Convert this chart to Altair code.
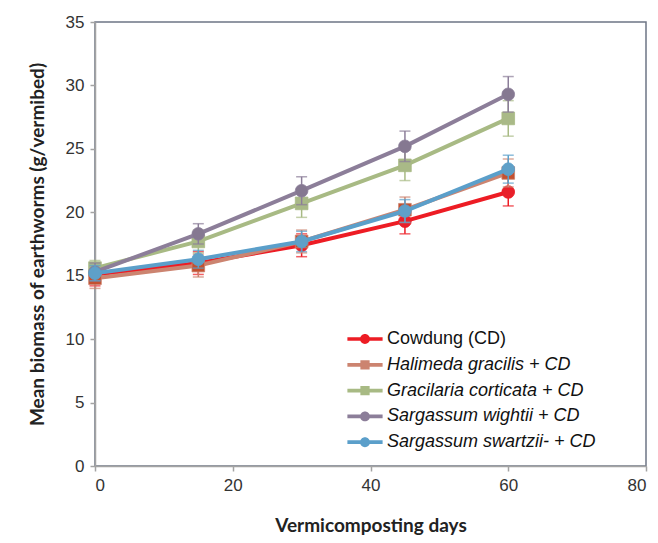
import altair as alt
import pandas as pd

days = [0, 15, 30, 45, 60]
series = ["Cowdung (CD)", "Halimeda gracilis + CD", "Gracilaria corticata + CD",
          "Sargassum wightii + CD", "Sargassum swartzii- + CD"]
cow = [15.1, 16.0, 17.4, 19.3, 21.6]
hal = [14.8, 15.8, 17.7, 20.2, 23.1]
gra = [15.6, 17.7, 20.7, 23.7, 27.4]
wig = [15.3, 18.3, 21.7, 25.2, 29.3]
swa = [15.2, 16.3, 17.7, 20.1, 23.4]
cow_err = [0.9, 0.9, 0.9, 1.0, 1.1]
hal_err = [0.8, 0.9, 0.9, 1.0, 1.1]
gra_err = [0.6, 0.9, 1.1, 1.2, 1.4]
wig_err = [0.7, 0.8, 1.1, 1.2, 1.4]
swa_err = [0.6, 0.7, 0.8, 0.9, 1.1]

means = [cow, hal, gra, wig, swa]
errs = [cow_err, hal_err, gra_err, wig_err, swa_err]
line_colors = ["#ED1C24", "#CC8470", "#A8BA84", "#8C7E99", "#5B9FCA"]
marker_colors = ["#E8202A", "#C4502F", "#A9B987", "#857891", "#5FA0C8"]
shapes = ["circle", "square", "square", "circle", "circle"]

rows = []
for s, m, e in zip(series, means, errs):
    for d, v, ev in zip(days, m, e):
        rows.append({"series": s, "day": d, "mean": v, "lo": v - ev, "hi": v + ev})
df = pd.DataFrame(rows)

xs = alt.Scale(domain=[0, 80], nice=False)
ys = alt.Scale(domain=[0, 35], nice=False)
xaxis = alt.Axis(values=[0, 20, 40, 60, 80], title="Vermicomposting days", grid=False)
yaxis = alt.Axis(values=[0, 5, 10, 15, 20, 25, 30, 35], title="Mean biomass of earthworms (g/vermibed)", grid=False)

circ = "M0.45,0A0.45,0.45 0 1,1 -0.45,0A0.45,0.45 0 1,1 0.45,0Z"
sq = "M-0.42,-0.42H0.42V0.42H-0.42Z"
bar = "M-1.6,-0.17H1.6V0.17H-1.6Z"
legend_paths = [bar + " " + (circ if sh == "circle" else sq) for sh in shapes]

base = alt.Chart(df)
layers = []
for s, lc, mc, sh in zip(series, line_colors, marker_colors, shapes):
    b = base.transform_filter(alt.datum.series == s)
    rule = b.mark_rule(color=lc, strokeWidth=1.5).encode(
        x=alt.X("day:Q", scale=xs, axis=xaxis),
        y=alt.Y("lo:Q", scale=ys, axis=yaxis), y2="hi:Q")
    caph = b.mark_tick(color=lc, orient="horizontal", size=11, thickness=1.5).encode(
        x="day:Q", y="hi:Q")
    capl = b.mark_tick(color=lc, orient="horizontal", size=11, thickness=1.5).encode(
        x="day:Q", y="lo:Q")
    line = b.mark_line(color=lc, strokeWidth=4).encode(x="day:Q", y="mean:Q")
    pts = b.mark_point(filled=True, fill=mc, shape=sh, size=160, opacity=1,
                       stroke=lc, strokeWidth=0.8).encode(x="day:Q", y="mean:Q")
    layers += [rule, caph, capl, line, pts]

legend_layer = base.transform_filter("false").mark_point(filled=True, opacity=1).encode(
    x="day:Q", y="mean:Q",
    color=alt.Color("series:N", scale=alt.Scale(domain=series, range=line_colors),
                    legend=alt.Legend(title=None, orient="none", legendX=259, legendY=306,
                                      symbolSize=484, symbolOpacity=1, symbolStrokeWidth=0,
                                      labelFont="Liberation Sans", labelFontSize=18,
                                      labelColor="#111111", labelOffset=11, rowPadding=5.8,
                                      labelLimit=400,
                                      labelFontStyle=alt.ExprRef("datum.value == 'Cowdung (CD)' ? 'normal' : 'italic'"))),
    shape=alt.Shape("series:N", scale=alt.Scale(domain=series, range=legend_paths)))
layers.append(legend_layer)

chart = alt.layer(*layers).properties(
    width=551, height=444,
    autosize=alt.AutoSizeParams(type="none"),
    padding={"left": 87, "top": 14, "right": 4, "bottom": 69},
).configure_view(stroke="#6E7585", strokeWidth=1.5).configure_axis(
    domainColor="#a3a3a3", domainWidth=1.5, tickColor="#a3a3a3", tickWidth=1.5, tickSize=5,
    labelFont="Liberation Sans", labelFontSize=17, labelColor="#333333",
    titleFont="Lato", titleFontSize=19, titleFontWeight="bold", titleColor="#222222",
).configure_axisY(labelPadding=6, titlePadding=18).configure_axisX(labelPadding=6, titlePadding=23)

chart.save("out.html", embed_options={"renderer": "svg", "actions": False})
